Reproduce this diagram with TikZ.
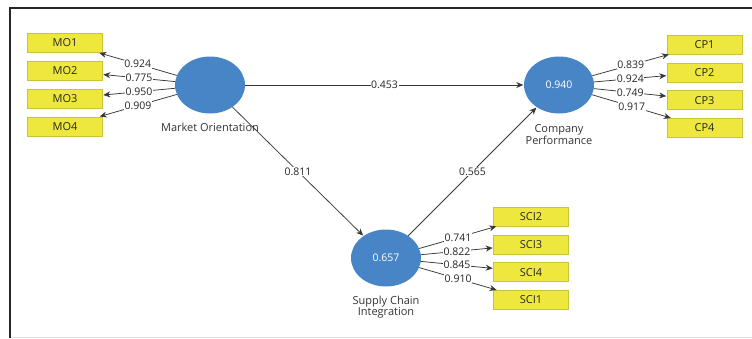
\documentclass[tikz,border=0pt]{standalone}
\usepackage{fontspec}
\setmainfont{Open Sans}
\usetikzlibrary{arrows.meta,shapes.geometric}

\definecolor{latentblue}{RGB}{72,133,199}
\definecolor{itemyellow}{RGB}{238,232,62}
\definecolor{itemborder}{RGB}{200,196,60}
\definecolor{pathgray}{RGB}{55,55,55}

\tikzset{
  latent/.style={ellipse, fill=latentblue, minimum width=70pt, minimum height=57pt,
    inner sep=0pt, text=white, font=\fontsize{10.5}{12}\selectfont},
  indicator/.style={rectangle, fill=itemyellow, draw=itemborder, line width=0.6pt,
    minimum width=75pt, minimum height=19pt, inner sep=0pt, text=black!85,
    font=\fontsize{11}{12}\selectfont},
  caption/.style={align=center, inner sep=0pt, text=black!80, font=\fontsize{11}{11.5}\selectfont},
  weight/.style={fill=white, inner sep=0.6pt, text=black!85, font=\fontsize{10.5}{12}\selectfont}
}

\begin{document}
\begin{tikzpicture}[x=1pt, y=1pt, >={Stealth[length=7pt,width=6pt]}, shorten >=0.5pt,
    node distance=27.8pt, every edge/.style={draw=pathgray, line width=0.75pt}]
    \useasboundingbox (0,0) rectangle (752,-338);
    % Frame
    \draw [line width=2pt, draw=black!85] (752,-8) -- (10,-8) -- (10,-338);
    \draw [line width=1pt, draw=black!12] (11,-337.5) -- (752,-337.5);

    % Nodes {MO, CP, SCI}
    \node [latent]    (MO)  at (210,-85)   {};
    \node [latent]    (CP)  at (559,-85)   {0.940};
    \node [latent]    (SCI) at (386,-258)  {0.657};

    % Captions
    \node [caption]   (MOcap)  at (210,-127)   {Market Orientation};
    \node [caption]   (CPcap)  at (559,-134.5) {Company\\Performance};
    \node [caption]   (SCIcap) at (386,-307)   {Supply Chain\\Integration};

    % Indicators
    \node [indicator] (MO1)                    at (65,-43)     {MO1};
    \node [indicator] (MO2)  [below of=MO1]                    {MO2};
    \node [indicator] (MO3)  [below of=MO2]                    {MO3};
    \node [indicator] (MO4)  [below of=MO3]                    {MO4};
    \node [indicator] (CP1)                    at (704.5,-44.5) {CP1};
    \node [indicator] (CP2)  [below of=CP1]                    {CP2};
    \node [indicator] (CP3)  [below of=CP2]                    {CP3};
    \node [indicator] (CP4)  [below of=CP3]                    {CP4};
    \node [indicator] (SCI2)                   at (531,-216.5) {SCI2};
    \node [indicator] (SCI3) [below of=SCI2]                   {SCI3};
    \node [indicator] (SCI4) [below of=SCI3]                   {SCI4};
    \node [indicator] (SCI1) [below of=SCI4]                   {SCI1};

    % Paths
    \path [->] (MO)  edge node [weight] {0.924} (MO1);
    \path [->] (MO)  edge node [weight] {0.775} (MO2);
    \path [->] (MO)  edge node [weight] {0.950} (MO3);
    \path [->] (MO)  edge node [weight] {0.909} (MO4);
    \path [->] (CP)  edge node [weight] {0.839} (CP1);
    \path [->] (CP)  edge node [weight] {0.924} (CP2);
    \path [->] (CP)  edge node [weight] {0.749} (CP3);
    \path [->] (CP)  edge node [weight] {0.917} (CP4);
    \path [->] (SCI) edge node [weight] {0.741} (SCI2);
    \path [->] (SCI) edge node [weight] {0.822} (SCI3);
    \path [->] (SCI) edge node [weight] {0.845} (SCI4);
    \path [->] (SCI) edge node [weight] {0.910} (SCI1);
    \path [->] (MO)  edge node [weight] {0.453} (CP);
    \path [->] (MO)  edge node [weight] {0.811} (SCI);
    \path [->] (SCI) edge node [weight] {0.565} (CP);
\end{tikzpicture}
\end{document}
